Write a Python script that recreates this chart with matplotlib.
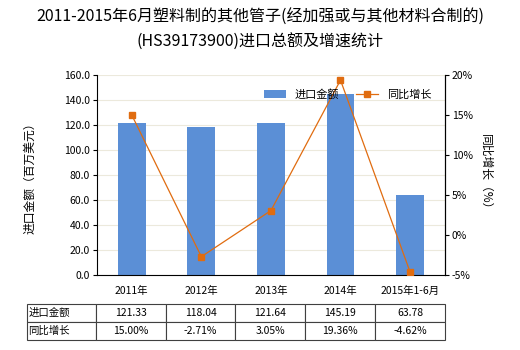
import matplotlib
matplotlib.use("Agg")
import matplotlib.pyplot as plt

plt.rcParams['font.family'] = ['Noto Sans CJK SC', 'DejaVu Sans']

years = ["2011年", "2012年", "2013年", "2014年", "2015年1-6月"]
amount = [121.33, 118.04, 121.64, 145.19, 63.78]
growth = [15.00, -2.71, 3.05, 19.36, -4.62]

bar_color = "#5b8fd6"
line_color = "#e06c10"
grid_color = "#ece9dc"

fig = plt.figure(figsize=(5.2, 3.5), dpi=100)
ax = fig.add_axes([0.1865, 0.2143, 0.669, 0.5714])
ax2 = ax.twinx()

x = range(len(years))
ax.bar(x, amount, width=0.4, color=bar_color, label="进口金额", zorder=2)
ax2.plot(x, growth, color=line_color, lw=0.9, marker="s", ms=4, label="同比增长", zorder=3)

ax.set_xlim(-0.5, len(years) - 0.5)
ax.set_ylim(0, 160)
ax.set_yticks(range(0, 161, 20))
ax.set_yticklabels([f"{v:.1f}" for v in range(0, 161, 20)], fontsize=7.5)
ax2.set_ylim(-5, 20)
ax2.set_yticks(range(-5, 21, 5))
ax2.set_yticklabels([f"{v}%" for v in range(-5, 21, 5)], fontsize=7.5)
ax.set_xticks(list(x))
ax.set_xticklabels(years, fontsize=7.5)
ax.tick_params(axis="x", length=0, pad=8)
ax.tick_params(axis="y", length=3, pad=2)
ax2.tick_params(axis="y", length=3, pad=2)

ax.yaxis.grid(True, color=grid_color, lw=0.8, zorder=0)
ax.set_axisbelow(True)
for a in (ax, ax2):
    a.spines["top"].set_visible(False)
ax2.spines["left"].set_visible(False)
ax2.spines["bottom"].set_visible(False)

ax.set_ylabel("进口金额（百万美元）", fontsize=8.5, labelpad=20)
ax2.set_ylabel("同比增长（%）", fontsize=8.5, rotation=-90, labelpad=14)

h1, l1 = ax.get_legend_handles_labels()
h2, l2 = ax2.get_legend_handles_labels()
ax2.legend(h1 + h2, l1 + l2, loc="upper center", bbox_to_anchor=(0.72, 0.98), ncol=2,
           frameon=False, fontsize=8, handlelength=2.0, columnspacing=1.5)

fig.text(0.5, 0.95, "2011-2015年6月塑料制的其他管子(经加强或与其他材料合制的)",
         ha="center", va="center", fontsize=11.5)
fig.text(0.5, 0.88, "(HS39173900)进口总额及增速统计", ha="center", va="center", fontsize=11.5)

# data table under the chart
tax = fig.add_axes([0.0519, 0.0286, 0.8038, 0.1029])
tax.axis("off")
cells = [["进口金额"] + [f"{v:.2f}" for v in amount],
         ["同比增长"] + [f"{v:.2f}%" for v in growth]]
col_w = [69 / 418] + [70 / 418] * len(years)
tbl = tax.table(cellText=cells, colWidths=col_w, bbox=[0, 0, 1, 1], cellLoc="center")
tbl.auto_set_font_size(False)
tbl.set_fontsize(7.5)
for (r, c), cell in tbl.get_celld().items():
    cell.set_edgecolor("#404040")
    cell.set_linewidth(0.8)
    if c == 0:
        cell.get_text().set_ha("left")
        cell.PAD = 0.02

fig.savefig("out.png", dpi=100)
